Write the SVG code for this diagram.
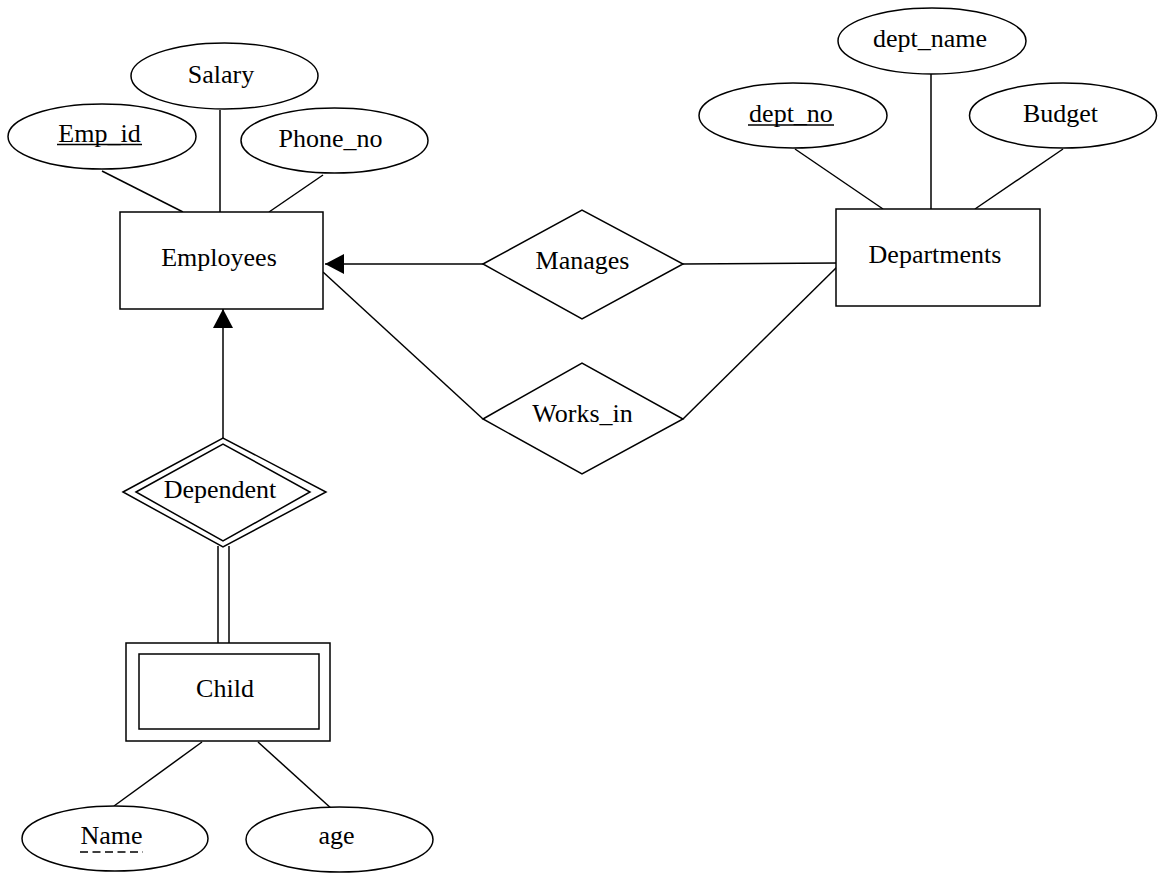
<svg xmlns="http://www.w3.org/2000/svg" width="1158" height="873" viewBox="0 0 1158 873">
<style>
  .s { fill: none; stroke: #000; stroke-width: 1.5; }
  .n { fill: #fff; stroke: #000; stroke-width: 1.5; }
  text { font-family: "Liberation Serif", "Times New Roman", serif; font-size: 26px; fill: #000; text-anchor: middle; }
</style>
<defs>
  <marker id="arr" markerWidth="20" markerHeight="20" refX="19" refY="10" orient="auto" markerUnits="userSpaceOnUse">
    <path d="M0,0 L19,10 L0,20 Z" fill="#000"/>
  </marker>
</defs>
<rect width="1158" height="873" fill="#fff"/>
<g id="connectors" class="s">
  <line x1="102" y1="171" x2="183" y2="212"/>
  <line x1="220" y1="110" x2="220" y2="212"/>
  <line x1="323" y1="175" x2="269" y2="212"/>
  <line x1="795" y1="149" x2="883" y2="209"/>
  <line x1="931" y1="74" x2="931" y2="209"/>
  <line x1="1063" y1="149" x2="975" y2="209"/>
  <line x1="483" y1="264" x2="325" y2="264" marker-end="url(#arr)"/>
  <line x1="683" y1="264" x2="838" y2="263"/>
  <line x1="323" y1="272" x2="483" y2="419"/>
  <line x1="683" y1="419" x2="837" y2="267"/>
  <line x1="223" y1="438" x2="223" y2="309" marker-end="url(#arr)"/>
  <line x1="218" y1="546" x2="218" y2="643"/>
  <line x1="229" y1="546" x2="229" y2="643"/>
  <line x1="202" y1="742" x2="114" y2="806"/>
  <line x1="258" y1="742" x2="333" y2="810"/>
</g>
<g id="emp_id">
  <ellipse class="n" cx="102" cy="136.5" rx="94" ry="32.5"/>
  <text x="99.5" y="142">Emp_id</text>
  <line class="s" x1="57" y1="144.5" x2="142" y2="144.5"/>
</g>
<g id="salary">
  <ellipse class="n" cx="224.5" cy="76" rx="93.5" ry="33"/>
  <text x="221" y="83">Salary</text>
</g>
<g id="phone_no">
  <ellipse class="n" cx="334.5" cy="140.5" rx="93.5" ry="32.5"/>
  <text x="330.5" y="147">Phone_no</text>
</g>
<g id="employees">
  <rect class="n" x="120" y="212" width="203" height="97"/>
  <text x="219" y="266">Employees</text>
</g>
<g id="dept_name">
  <ellipse class="n" cx="932" cy="41" rx="94" ry="33"/>
  <text x="930" y="47">dept_name</text>
</g>
<g id="dept_no">
  <ellipse class="n" cx="793" cy="115.5" rx="94" ry="32.5"/>
  <text x="791" y="122">dept_no</text>
  <line class="s" x1="748" y1="125" x2="834" y2="125"/>
</g>
<g id="budget">
  <ellipse class="n" cx="1063" cy="115.5" rx="93.5" ry="32.5"/>
  <text x="1060.5" y="122">Budget</text>
</g>
<g id="departments">
  <rect class="n" x="836" y="209" width="204" height="97"/>
  <text x="935" y="263">Departments</text>
</g>
<g id="manages">
  <polygon class="n" points="483,264 582,210 683,264 582,319"/>
  <text x="582.5" y="269">Manages</text>
</g>
<g id="works_in">
  <polygon class="n" points="483,419 582,363 683,419 582,474"/>
  <text x="582.5" y="422">Works_in</text>
</g>
<g id="dependent">
  <polygon class="n" points="123,492 223,438 326,492 223,547"/>
  <polygon class="s" points="136,492 223,444 310,492 223,541"/>
  <text x="220" y="498">Dependent</text>
</g>
<g id="child">
  <rect class="n" x="126" y="643" width="204" height="98"/>
  <rect class="s" x="139" y="654" width="180" height="75"/>
  <text x="225" y="697">Child</text>
</g>
<g id="name">
  <ellipse class="n" cx="115" cy="838.5" rx="93" ry="32.5"/>
  <text x="111.5" y="844">Name</text>
  <line class="s" x1="80" y1="852" x2="143" y2="852" stroke-dasharray="8,4.5"/>
</g>
<g id="age">
  <ellipse class="n" cx="339.5" cy="839.5" rx="93.5" ry="32.5"/>
  <text x="336.5" y="844">age</text>
</g>
</svg>
